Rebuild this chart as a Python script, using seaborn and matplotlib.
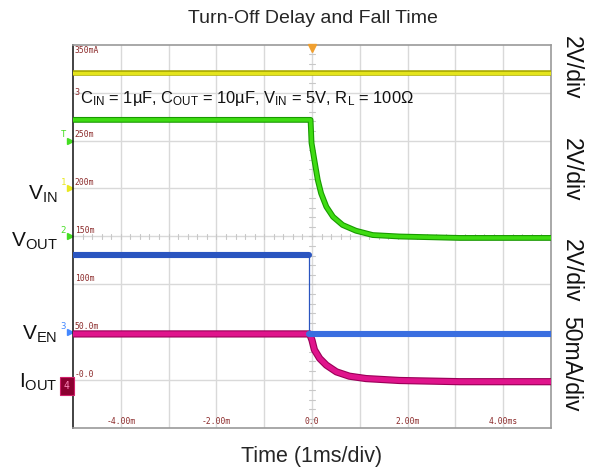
import numpy as np
import pandas as pd
import matplotlib
matplotlib.use("Agg")
import matplotlib.pyplot as plt
import matplotlib.transforms as mtransforms
import seaborn as sns

# scope traces, time in ms, level in screen divisions (0 = bottom, 8 = top)
vin_t = [-5.0, 5.0]
vin_div = [7.41, 7.41]

vout_t = [-5.0, -0.03, -0.01, 0.05, 0.12, 0.19, 0.30, 0.44, 0.64, 0.92, 1.27, 1.83, 3.09, 5.0]
vout_div = [6.43, 6.43, 5.95, 5.59, 5.18, 4.90, 4.62, 4.41, 4.24, 4.12, 4.03, 4.00, 3.97, 3.97]

ven_t = [-5.0, -0.07, -0.07, 5.0]
ven_div = [3.61, 3.61, 1.97, 1.97]

iout_t = [-5.0, -0.05, 0.0, 0.05, 0.16, 0.30, 0.51, 0.78, 1.13, 1.83, 3.09, 5.0]
iout_div = [1.97, 1.97, 1.84, 1.64, 1.46, 1.32, 1.18, 1.09, 1.04, 1.00, 0.975, 0.975]

# on-screen scale labels
y_scale_labels = ["350mA", "250m", "200m", "150m", "100m", "50.0m", "-0.0"]
y_scale_pos = [8, 6, 5, 4, 3, 2, 1]
x_scale_labels = ["-4.00m", "-2.00m", "0.0", "2.00m", "4.00ms"]
x_scale_pos = [-4, -2, 0, 2, 4]

sns.set_style("white")
plt.rcParams["font.family"] = ["Liberation Sans", "DejaVu Sans"]
plt.rcParams["mathtext.fontset"] = "custom"
plt.rcParams["mathtext.rm"] = "Liberation Sans"
plt.rcParams["mathtext.it"] = "Liberation Sans"

fig = plt.figure(figsize=(5.93, 4.72), dpi=100)
ax = fig.add_axes([0.1231, 0.0922, 0.8061, 0.8135])
ax.set_xlim(-5, 5)
ax.set_ylim(0, 8)

# graticule
for gx in range(-4, 5):
    ax.axvline(gx, color="#d9d9d9", lw=1.0, zorder=0)
for gy in range(1, 8):
    ax.axhline(gy, color="#d9d9d9", lw=1.0, zorder=0)
for m in np.arange(0.2, 8, 0.2):
    ax.plot([-0.06, 0.06], [m, m], color="#c8c8c8", lw=0.8, zorder=0)
for m in np.arange(-4.8, 5, 0.2):
    ax.plot([m, m], [3.94, 4.06], color="#c8c8c8", lw=0.8, zorder=0)

ax.set_xticks([])
ax.set_yticks([])
for side in ["top", "right", "bottom"]:
    ax.spines[side].set_color("#9a9a9a")
    ax.spines[side].set_linewidth(1.2)
ax.spines["left"].set_color("#222222")
ax.spines["left"].set_linewidth(1.2)


def trace(t, v, dark, bright, lw):
    df = pd.DataFrame({"t": t, "v": v})
    sns.lineplot(data=df, x="t", y="v", ax=ax, color=dark, lw=lw + 1.6,
                 estimator=None, sort=False, zorder=3)
    sns.lineplot(data=df, x="t", y="v", ax=ax, color=bright, lw=lw,
                 estimator=None, sort=False, zorder=4)


trace(vin_t, vin_div, "#a6a600", "#e4e41c", 2.4)
trace(vout_t, vout_div, "#189a00", "#3fdc12", 2.6)
trace(iout_t, iout_div, "#9a0058", "#e0148c", 3.6)

# enable trace: thick levels, thin edge
sns.lineplot(x=ven_t, y=ven_div, ax=ax, color="#2a55c0", lw=0.9,
             estimator=None, sort=False, zorder=5)
sns.lineplot(x=ven_t[:2], y=ven_div[:2], ax=ax, color="#2a55c0", lw=4.4,
             estimator=None, zorder=5)
sns.lineplot(x=ven_t[2:], y=ven_div[2:], ax=ax, color="#3a6ee0", lw=4.4,
             estimator=None, zorder=5)
ax.set_xlabel("")
ax.set_ylabel("")

# scale labels drawn by the scope
lab_col = "#8b2a2a"
tr = mtransforms.blended_transform_factory(ax.transAxes, ax.transData)
for lab, p in zip(y_scale_labels, y_scale_pos):
    if p == 8:
        ax.text(0.004, p - 0.04, lab, transform=tr, ha="left", va="top",
                family="DejaVu Sans Mono", fontsize=5.8, color=lab_col, zorder=6)
    else:
        ax.text(0.004, p + 0.03, lab, transform=tr, ha="left", va="bottom",
                family="DejaVu Sans Mono", fontsize=5.8, color=lab_col, zorder=6)
for lab, p in zip(x_scale_labels, x_scale_pos):
    ax.text(p, 0.05, lab, ha="center", va="bottom", family="DejaVu Sans Mono",
            fontsize=5.8, color=lab_col, zorder=6)

# trigger marker
ax.plot([0], [7.93], marker="v", ms=6, color="#f0a030", clip_on=False, zorder=7)

# channel markers at left edge
marks = [("T", 6.0, "#44dd22"), ("1", 5.0, "#e8e820"), ("2", 4.0, "#44dd22"), ("3", 2.0, "#4488ff")]
for s, yv, c in marks:
    ax.plot([-0.007], [yv], transform=tr, marker=">", ms=5, color=c, clip_on=False)
    ax.text(-0.02, yv + 0.12, s, transform=tr, ha="center", va="center",
            fontsize=6.5, color=c, family="DejaVu Sans Mono")
ax.text(-0.013, 0.88, "4", transform=tr, ha="center", va="center", fontsize=7,
        color="#ff88bb", family="DejaVu Sans Mono",
        bbox=dict(boxstyle="square,pad=0.4", fc="#8b0030", ec="#d0206a", lw=0.8))

# signal names
left_names = [r"V$_{\mathrm{IN}}$", r"V$_{\mathrm{OUT}}$", r"V$_{\mathrm{EN}}$", r"I$_{\mathrm{OUT}}$"]
left_base = [4.76, 3.78, 1.84, 0.84]
for s, yv in zip(left_names, left_base):
    ax.text(-0.033, yv, s, transform=tr, ha="right", va="baseline", fontsize=15,
            color="#111111")

right_names = ["2V/div", "2V/div", "2V/div", "50mA/div"]
right_pos = [7.51, 5.39, 3.28, 1.34]
for s, yv in zip(right_names, right_pos):
    ax.text(1.042, yv, s, transform=tr, ha="center", va="center", rotation=270,
            fontsize=16.5, color="#111111")

# test condition note
ax.text(-4.97, 7.0, "3", ha="left", va="center", fontsize=6, color=lab_col,
        family="DejaVu Sans Mono", zorder=6)
ax.text(-4.86, 6.79,
        r"C$_{\mathrm{IN}}$ = 1µF, C$_{\mathrm{OUT}}$ = 10µF, V$_{\mathrm{IN}}$ = 5V, R$_{\mathrm{L}}$ = 100Ω",
        ha="left", va="baseline", fontsize=11.9, color="#111111", zorder=6)

fig.text(0.527, 0.96, "Turn-Off Delay and Fall Time", ha="center", va="center", fontsize=14)
fig.text(0.525, 0.032, "Time (1ms/div)", ha="center", va="center", fontsize=15.5)

fig.savefig("out.png", dpi=100)
